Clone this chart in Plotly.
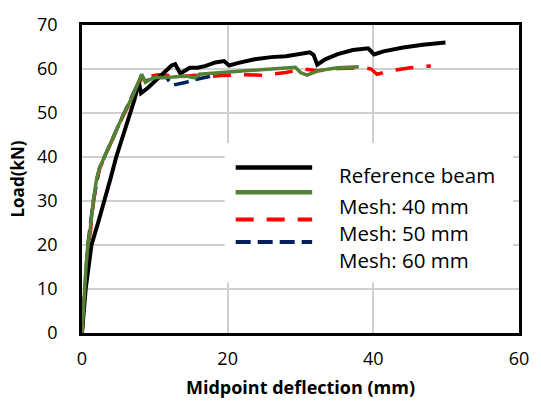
import plotly.graph_objects as go

# ---- data ----
ref_x = [0, 0.3, 0.5, 0.9, 1.3, 2.2, 3.1, 3.9, 4.7, 5.5, 6.3, 7.2, 7.8, 8.1, 9.1, 10.2, 11.2, 12.3, 12.8,
         13.5, 14.8, 15.9, 17.0, 18.3, 19.5, 20.2, 21.5, 23.7, 26.0, 28.0, 31.3, 31.8, 32.3, 33.4, 35.1,
         37.2, 39.3, 40.1, 41.4, 44.1, 46.8, 49.9]
ref_y = [0, 6, 10, 15, 20, 25, 30, 35, 40, 44, 48, 53, 57, 54.5, 55.8, 57.5, 59.2, 60.8, 61.1,
         59.0, 60.3, 60.3, 60.7, 61.5, 61.8, 60.8, 61.4, 62.2, 62.7, 62.9, 63.8, 63.2, 61.0, 62.2, 63.4,
         64.3, 64.7, 63.3, 64.0, 64.9, 65.5, 66.0]

m40_x = [0, 0.15, 0.35, 0.55, 0.8, 1.1, 1.55, 2.0, 2.4, 4.0, 5.5, 7.0, 8.2, 8.7, 9.8, 12.5, 14.3, 15.5,
         16.1, 19.2, 22.0, 26.0, 29.3, 30.0, 30.9, 32.4, 35.1, 38.0]
m40_y = [0, 5, 10, 15, 20, 23, 30, 35, 37.5, 43.5, 49.0, 54.0, 58.8, 57.0, 58.0, 58.2, 58.4, 58.0,
         58.8, 59.2, 59.5, 60.0, 60.4, 59.2, 58.6, 59.6, 60.3, 60.5]

m50_x = [0, 0.2, 0.4, 0.6, 0.85, 1.15, 1.6, 2.05, 2.45, 4.05, 5.55, 7.05, 8.3, 8.8, 9.5, 10.5, 12.0,
         14.0, 15.5, 17.0, 19.0, 22.0, 24.9, 28.0, 30.3, 32.4, 35.1, 38.8, 39.7, 40.5, 42.4, 45.1, 47.9]
m50_y = [0, 5, 10, 15, 20, 23, 30, 35, 37.5, 43.5, 49.0, 54.0, 58.3, 57.5, 58.4, 58.7, 58.6,
         58.3, 58.6, 58.2, 58.5, 58.7, 58.6, 59.2, 60.0, 59.6, 60.1, 60.3, 60.0, 58.8, 59.6, 60.3, 60.7]

m60_x = [0, 0.35, 0.8, 1.55, 2.4, 5.5, 8.2, 8.7, 9.8, 11.6, 12.4, 14.3, 15.5, 17.5, 18.5]
m60_y = [0, 10, 20, 30, 37.5, 49.0, 58.5, 57.2, 58.0, 58.1, 56.3, 57.0, 57.6, 58.3, 58.6]

names = ["Reference beam", "Mesh: 40 mm", "Mesh: 50 mm", "Mesh: 60 mm"]
colors = ["#000000", "#548235", "#ff0000", "#002060"]
dashes = ["solid", "solid", "18px,13px", "15px,7px"]
widths = [4, 3.5, 3.5, 3.5]

x_ticks = [0, 20, 40, 60]
y_ticks = [0, 10, 20, 30, 40, 50, 60, 70]

FONT = "Open Sans"

fig = go.Figure()
series = {0: (ref_x, ref_y), 1: (m40_x, m40_y), 2: (m50_x, m50_y), 3: (m60_x, m60_y)}
for i in [3, 2, 0, 1]:
    xs, ys = series[i]
    fig.add_trace(go.Scatter(x=xs, y=ys, mode="lines", name=names[i], showlegend=False,
                             line=dict(color=colors[i], width=widths[i], dash=dashes[i])))

# ---- legend box drawn like the reference (long samples) ----
box = dict(x0=19.6, x1=59.2, y0=11.5, y1=43.1)
fig.add_shape(type="rect", xref="x", yref="y", **box, fillcolor="white",
              line=dict(width=0), layer="between")
sample_y = [37.6, 32.0, 25.8, 20.7]
text_y = [35.8, 28.9, 22.7, 16.7]
for i in range(4):
    fig.add_shape(type="line", xref="x", yref="y", x0=21.1, x1=31.6, y0=sample_y[i], y1=sample_y[i],
                  line=dict(color=colors[i], width=4.5 if i < 2 else 4, dash=dashes[i]), layer="above")
    fig.add_annotation(x=35.0, y=text_y[i], xref="x", yref="y", text=names[i], showarrow=False,
                       xanchor="left", yanchor="middle", font=dict(family=FONT, size=20.5, color="#000000"))

fig.update_layout(
    width=541, height=408,
    margin=dict(l=82, r=13, t=18, b=75),
    paper_bgcolor="white", plot_bgcolor="white",
    font=dict(family=FONT, size=18, color="#000000"),
    showlegend=False,
)
fig.update_xaxes(range=[0, 60], tickvals=x_ticks, showgrid=True, gridcolor="#d0d0d0", gridwidth=1.5,
                 showline=True, linecolor="black", linewidth=2.5, mirror=True, zeroline=False,
                 ticks="", ticklabelstandoff=8,
                 title=dict(text="<b>Midpoint deflection (mm)</b>", font=dict(family=FONT, size=18), standoff=13))
fig.update_yaxes(range=[0, 70], tickvals=y_ticks, showgrid=True, gridcolor="#d0d0d0", gridwidth=1.5,
                 showline=True, linecolor="black", linewidth=2.5, mirror=True, zeroline=False,
                 ticks="", ticklabelstandoff=18,
                 title=dict(text="<b>Load(kN)</b>", font=dict(family=FONT, size=17), standoff=9))

fig.write_html("out.html")
